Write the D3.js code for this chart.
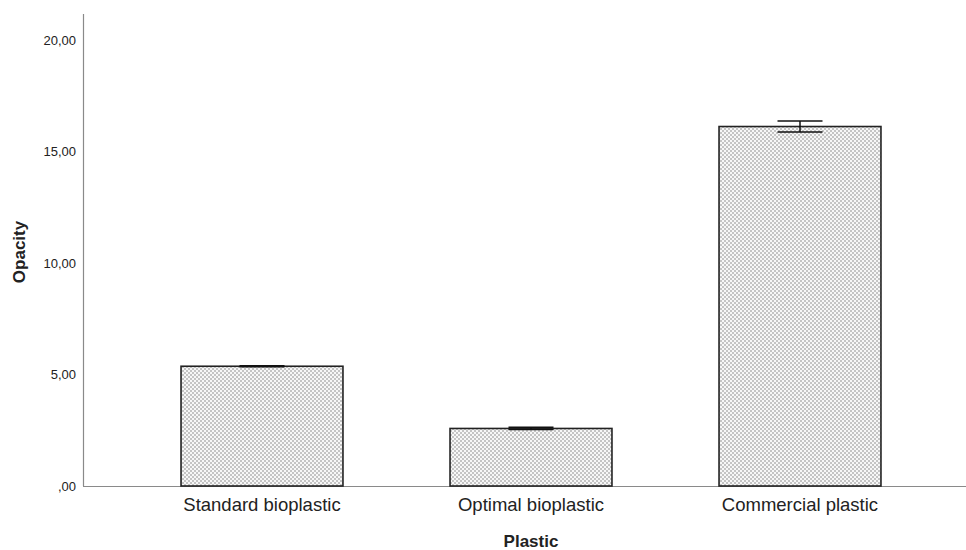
<!DOCTYPE html>
<html>
<head>
<meta charset="utf-8">
<script src="https://cdn.jsdelivr.net/npm/d3@7"></script>
<style>
  html, body { margin: 0; padding: 0; background: #fff; }
  text { font-family: "Liberation Sans", Arial, sans-serif; fill: #222; }
</style>
</head>
<body>
<svg id="chart" width="966" height="550"></svg>
<script>
// Mean opacity per plastic type, with error bar half-widths
const categories = ["Standard bioplastic", "Optimal bioplastic", "Commercial plastic"];
const means = [5.37, 2.58, 16.12];
const errors = [0.02, 0.05, 0.25];
const yTicks = [0, 5, 10, 15, 20];
const yTickLabels = [",00", "5,00", "10,00", "15,00", "20,00"];
const xTitle = "Plastic";
const yTitle = "Opacity";

const svg = d3.select("#chart");

const x = d3.scaleBand()
  .domain(categories)
  .range([127.5, 934.5])
  .paddingInner(0.398)
  .paddingOuter(0.199);

const y = d3.scaleLinear().domain([0, 20]).range([486, 40]);

// Stippled fill used by the bars
const defs = svg.append("defs");
const pat = defs.append("pattern")
  .attr("id", "stipple")
  .attr("patternUnits", "userSpaceOnUse")
  .attr("width", 4).attr("height", 4);
pat.append("rect").attr("width", 4).attr("height", 4).attr("fill", "#f7f7f7");
pat.append("rect").attr("x", 0).attr("y", 0).attr("width", 2).attr("height", 2).attr("fill", "#c4c4c4");
pat.append("rect").attr("x", 2).attr("y", 2).attr("width", 2).attr("height", 2).attr("fill", "#c4c4c4");

// Axes lines
svg.append("line")
  .attr("x1", 83.5).attr("x2", 83.5)
  .attr("y1", 14).attr("y2", y(0))
  .attr("stroke", "#8a8a8a").attr("stroke-width", 1.2);
svg.append("line")
  .attr("x1", 83).attr("x2", 966)
  .attr("y1", y(0) + 0.5).attr("y2", y(0) + 0.5)
  .attr("stroke", "#8a8a8a").attr("stroke-width", 1.2);

// Y tick labels (no tick marks)
svg.append("g").selectAll("text")
  .data(yTicks)
  .join("text")
  .attr("x", 76)
  .attr("y", d => y(d))
  .attr("dy", "0.35em")
  .attr("text-anchor", "end")
  .attr("font-size", 13)
  .text((d, i) => yTickLabels[i]);

// Bars
svg.append("g").selectAll("rect")
  .data(categories)
  .join("rect")
  .attr("x", d => x(d))
  .attr("y", (d, i) => y(means[i]))
  .attr("width", x.bandwidth())
  .attr("height", (d, i) => y(0) - y(means[i]))
  .attr("fill", "url(#stipple)")
  .attr("stroke", "#222")
  .attr("stroke-width", 1.6);

// Error bars
const capW = 45;
const eb = svg.append("g").selectAll("g")
  .data(categories)
  .join("g")
  .attr("stroke", "#111")
  .attr("stroke-width", 1.5);
eb.append("line")
  .attr("x1", d => x(d) + x.bandwidth() / 2)
  .attr("x2", d => x(d) + x.bandwidth() / 2)
  .attr("y1", (d, i) => y(means[i] + errors[i]))
  .attr("y2", (d, i) => y(means[i] - errors[i]));
eb.append("line")
  .attr("x1", d => x(d) + x.bandwidth() / 2 - capW / 2)
  .attr("x2", d => x(d) + x.bandwidth() / 2 + capW / 2)
  .attr("y1", (d, i) => y(means[i] + errors[i]))
  .attr("y2", (d, i) => y(means[i] + errors[i]));
eb.append("line")
  .attr("x1", d => x(d) + x.bandwidth() / 2 - capW / 2)
  .attr("x2", d => x(d) + x.bandwidth() / 2 + capW / 2)
  .attr("y1", (d, i) => y(means[i] - errors[i]))
  .attr("y2", (d, i) => y(means[i] - errors[i]));

// Category labels
svg.append("g").selectAll("text")
  .data(categories)
  .join("text")
  .attr("x", d => x(d) + x.bandwidth() / 2)
  .attr("y", 511)
  .attr("text-anchor", "middle")
  .attr("font-size", 18.5)
  .text(d => d);

// Axis titles
svg.append("text")
  .attr("x", x(categories[1]) + x.bandwidth() / 2)
  .attr("y", 547)
  .attr("text-anchor", "middle")
  .attr("font-size", 17)
  .attr("font-weight", "bold")
  .text(xTitle);

svg.append("text")
  .attr("transform", "translate(25,252) rotate(-90)")
  .attr("text-anchor", "middle")
  .attr("font-size", 17)
  .attr("font-weight", "bold")
  .text(yTitle);
</script>
</body>
</html>
